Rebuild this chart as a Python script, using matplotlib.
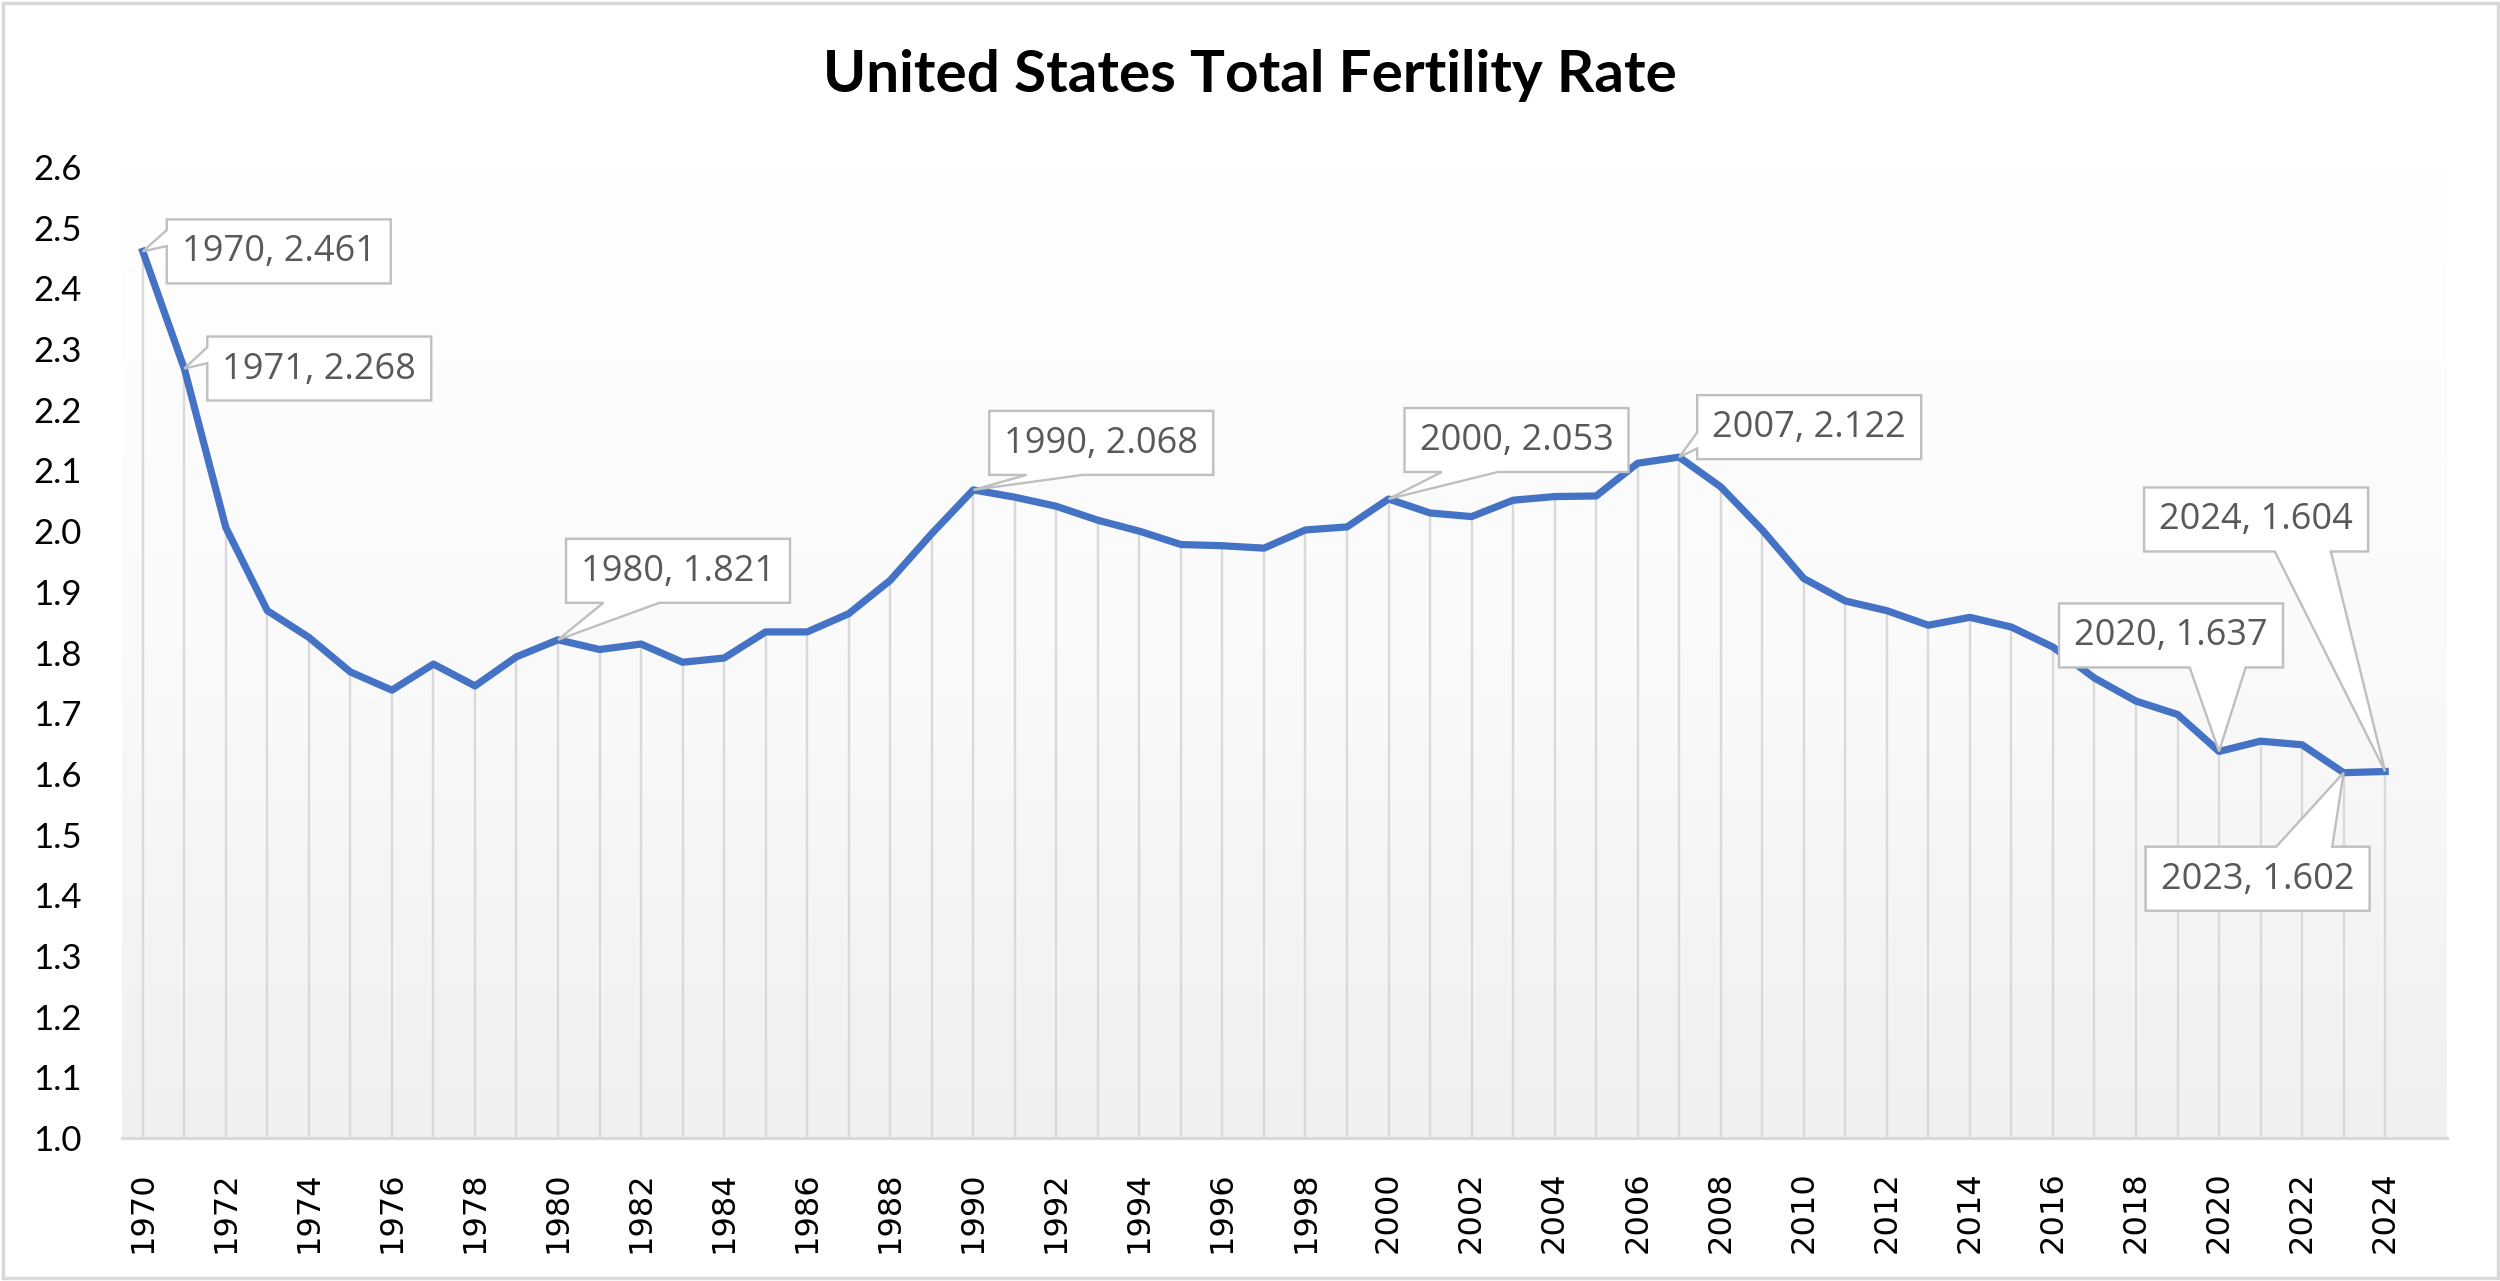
import numpy as np
import matplotlib
matplotlib.use('Agg')
import matplotlib.pyplot as plt
import matplotlib.transforms as mtransforms
from matplotlib.colors import LinearSegmentedColormap
from matplotlib.patches import Rectangle, Polygon

# data
years = list(range(1970, 2025))
tfr = [2.461, 2.268, 2.006, 1.869, 1.825, 1.768, 1.738, 1.781, 1.745, 1.793,
       1.821, 1.805, 1.814, 1.784, 1.791, 1.834, 1.834, 1.864, 1.919, 1.996,
       2.068, 2.056, 2.041, 2.018, 2.000, 1.978, 1.976, 1.972, 2.002, 2.007,
       2.053, 2.030, 2.024, 2.051, 2.057, 2.058, 2.112, 2.122, 2.073, 2.002,
       1.922, 1.885, 1.869, 1.845, 1.858, 1.842, 1.809, 1.758, 1.720, 1.698,
       1.637, 1.654, 1.648, 1.602, 1.604]
labelled_years = [1970, 1971, 1980, 1990, 2000, 2007, 2020, 2023, 2024]
y_ticks = [1.0, 1.1, 1.2, 1.3, 1.4, 1.5, 1.6, 1.7, 1.8, 1.9,
           2.0, 2.1, 2.2, 2.3, 2.4, 2.5, 2.6]
x_ticks = list(range(1970, 2025, 2))

# callout box centre offsets from the point, in pixels (x right, y up)
offsets = {1970: (136, 0), 1971: (135, 0), 1980: (120, 69),
           1990: (128, 47), 2000: (128, 59), 2007: (130, 30),
           2020: (-48, 116), 2023: (-86, -106), 2024: (-129, 252)}
BOX_W, BOX_H = 224, 64


def callout_path(cx, cy, hw, hh):
    # rectangle around (cx, cy) with a wedge pointing at (0, 0), excel style
    px, py = -cx, -cy
    l, r, b, t = cx - hw, cx + hw, cy - hh, cy + hh
    near = (1 / 6, 5 / 12)
    far = (7 / 12, 10 / 12)
    if abs(px) / hw >= abs(py) / hh:
        edge = 'left' if px < 0 else 'right'
        fr = near if py >= 0 else far          # measured from the top
        e1, e2 = t - fr[0] * 2 * hh, t - fr[1] * 2 * hh
    else:
        edge = 'bottom' if py < 0 else 'top'
        fr = near if px < 0 else far           # measured from the left
        e1, e2 = l + fr[0] * 2 * hw, l + fr[1] * 2 * hw
    pts = [(l, b)]
    if edge == 'bottom':
        pts += [(e1, b), (0, 0), (e2, b)]
    pts.append((r, b))
    if edge == 'right':
        pts += [(r, e2), (0, 0), (r, e1)]
    pts.append((r, t))
    if edge == 'top':
        pts += [(e2, t), (0, 0), (e1, t)]
    pts.append((l, t))
    if edge == 'left':
        pts += [(l, e1), (0, 0), (l, e2)]
    return pts


fig = plt.figure(figsize=(25, 12.81), dpi=100)
ax = fig.add_axes([0.0488, 0.1116, 0.93, 0.758])
ax.set_xlim(1969.5, 2025.49)
ax.set_ylim(1.0, 2.6)

# plot area gradient
grad = np.linspace(0, 1, 256).reshape(-1, 1)
cmap = LinearSegmentedColormap.from_list('bg', ['#f0f0f0', '#fafafa', '#ffffff'])
ax.imshow(grad, extent=[0, 1, 0, 1], transform=ax.transAxes, aspect='auto',
          cmap=cmap, origin='lower', zorder=0)

ax.vlines(years, 1.0, tfr, color='#d9d9d9', lw=1.7, zorder=1)
ax.plot(years, tfr, color='#4472C4', lw=5.2, solid_joinstyle='round', zorder=3)

for yr in labelled_years:
    v = tfr[years.index(yr)]
    cx, cy = offsets[yr]
    trans = mtransforms.IdentityTransform() + \
        mtransforms.ScaledTranslation(yr, v, ax.transData)
    poly = Polygon(callout_path(cx, cy, BOX_W / 2, BOX_H / 2), closed=True,
                   transform=trans, fc='white', ec='#bfbfbf', lw=1.7,
                   joinstyle='miter', zorder=5, clip_on=False)
    ax.add_patch(poly)
    ax.annotate(f'{yr}, {v:.3f}', xy=(yr, v), xytext=(cx, cy - 1),
                textcoords='offset pixels', ha='center', va='center',
                fontsize=26, color='#595959', family='Open Sans', zorder=6)

ax.set_yticks(y_ticks)
ax.set_yticklabels([f'{t:.1f}' for t in y_ticks], family='Lato', fontsize=25)
ax.set_xticks(x_ticks)
ax.set_xticklabels([str(t) for t in x_ticks], rotation=90,
                   family='DejaVu Sans', fontsize=23)
ax.tick_params(axis='y', length=0, pad=29)
ax.tick_params(axis='x', length=0, pad=24)

for s in ['top', 'right', 'left']:
    ax.spines[s].set_visible(False)
ax.spines['bottom'].set_color('#d9d9d9')
ax.spines['bottom'].set_linewidth(2.2)
ax.spines['bottom'].set_zorder(4)

fig.text(0.5, 0.9407, 'United States Total Fertility Rate', ha='center',
         va='center', fontsize=42, fontweight='bold', family='Lato')

fig.patches.append(Rectangle((0.001, 0.002), 0.998, 0.996,
                             transform=fig.transFigure, fill=False,
                             ec='#d9d9d9', lw=2.5))

fig.savefig('out.png', dpi=100)
